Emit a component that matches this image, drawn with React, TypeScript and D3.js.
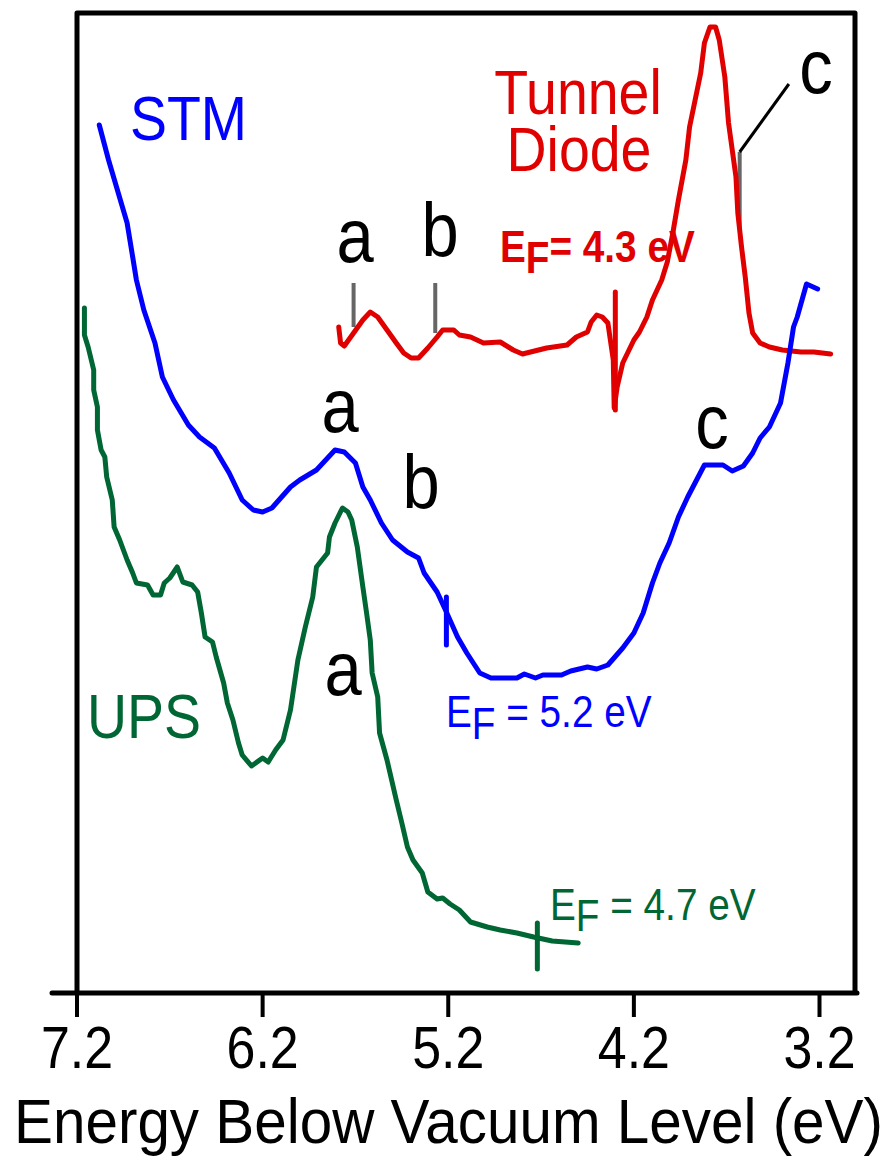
import React from 'react';
import * as d3 from 'd3';

// energy (eV below vacuum) and intensity (arb. units)
const stmEnergy = [7.08, 7.03, 6.93, 6.90, 6.88, 6.84, 6.78, 6.74, 6.68, 6.60, 6.54, 6.46, 6.38, 6.31, 6.25, 6.20, 6.15, 6.05, 6.00, 5.91, 5.85, 5.81, 5.76, 5.70, 5.66, 5.62, 5.56, 5.50, 5.42, 5.36, 5.33, 5.26, 5.21, 5.15, 5.10, 5.03, 4.97, 4.83, 4.79, 4.73, 4.69, 4.59, 4.54, 4.45, 4.40, 4.34, 4.26, 4.20, 4.15, 4.10, 4.06, 4.01, 3.96, 3.91, 3.82, 3.72, 3.67, 3.61, 3.56, 3.52, 3.47, 3.41, 3.37, 3.34, 3.32, 3.27, 3.21];
const stmSignal = [86.8, 83.3, 77.0, 73.6, 71.3, 68.3, 65.0, 61.6, 59.3, 56.8, 55.6, 54.5, 52.0, 49.3, 48.3, 48.1, 48.5, 50.6, 51.3, 52.3, 53.5, 54.3, 54.1, 53.0, 50.6, 49.3, 47.0, 45.3, 44.1, 43.5, 42.0, 40.1, 38.1, 35.6, 34.0, 32.0, 31.5, 31.5, 31.9, 31.5, 31.8, 31.8, 32.2, 32.6, 32.4, 32.8, 34.5, 36.0, 38.0, 41.0, 43.0, 45.0, 47.6, 49.6, 52.8, 52.8, 52.2, 52.7, 54.0, 55.5, 56.6, 59.0, 63.0, 66.6, 67.6, 70.9, 70.4];

const upsEnergy = [7.16, 7.16, 7.14, 7.11, 7.11, 7.09, 7.09, 7.07, 7.05, 7.04, 7.01, 7.00, 6.97, 6.93, 6.90, 6.88, 6.82, 6.79, 6.75, 6.73, 6.70, 6.66, 6.63, 6.58, 6.55, 6.53, 6.51, 6.47, 6.45, 6.43, 6.41, 6.39, 6.36, 6.33, 6.31, 6.26, 6.20, 6.17, 6.13, 6.09, 6.05, 6.01, 5.97, 5.93, 5.91, 5.85, 5.84, 5.81, 5.77, 5.74, 5.72, 5.69, 5.66, 5.64, 5.62, 5.61, 5.58, 5.57, 5.53, 5.48, 5.45, 5.42, 5.39, 5.34, 5.31, 5.26, 5.23, 5.19, 5.14, 5.08, 4.99, 4.92, 4.83, 4.74, 4.64, 4.50];
const upsSignal = [68.5, 65.8, 64.6, 62.3, 60.3, 58.6, 56.3, 54.3, 53.6, 51.6, 49.3, 46.6, 45.3, 43.3, 42.0, 41.0, 40.8, 39.8, 39.8, 41.0, 41.5, 42.6, 41.1, 40.8, 40.1, 38.0, 35.6, 35.1, 33.6, 32.3, 31.0, 29.0, 27.3, 25.0, 23.8, 22.7, 23.5, 23.1, 24.3, 25.3, 28.3, 33.3, 36.6, 39.6, 42.6, 44.0, 45.6, 47.0, 48.5, 48.1, 47.3, 44.6, 40.6, 38.0, 35.3, 32.0, 29.6, 26.0, 23.3, 19.3, 17.0, 14.6, 13.3, 12.0, 10.1, 9.4, 9.5, 8.9, 8.3, 7.1, 6.6, 6.3, 6.0, 5.6, 5.2, 5.0];

const diodeEnergy = [5.79, 5.78, 5.76, 5.71, 5.66, 5.62, 5.58, 5.53, 5.48, 5.44, 5.40, 5.36, 5.31, 5.26, 5.23, 5.17, 5.14, 5.08, 5.01, 4.92, 4.85, 4.80, 4.67, 4.56, 4.51, 4.45, 4.43, 4.40, 4.37, 4.34, 4.311, 4.306, 4.29, 4.26, 4.20, 4.17, 4.13, 4.10, 4.05, 4.02, 3.99, 3.96, 3.92, 3.90, 3.87, 3.84, 3.82, 3.79, 3.76, 3.74, 3.71, 3.69, 3.67, 3.65, 3.64, 3.62, 3.60, 3.58, 3.56, 3.52, 3.47, 3.40, 3.30, 3.23, 3.14];
const diodeSignal = [66.6, 65.0, 64.7, 66.0, 67.3, 68.1, 67.6, 66.3, 65.0, 64.0, 63.5, 63.5, 64.5, 65.6, 66.3, 66.3, 65.8, 65.6, 65.0, 65.1, 64.3, 63.9, 64.5, 64.8, 65.6, 66.1, 67.1, 67.8, 67.6, 67.0, 63.3, 58.5, 60.6, 63.0, 65.3, 66.1, 67.6, 69.3, 71.3, 73.1, 76.0, 79.3, 83.3, 86.6, 89.3, 92.0, 95.0, 96.6, 96.6, 95.3, 91.6, 87.0, 84.3, 81.6, 78.0, 74.6, 71.6, 68.0, 66.0, 65.0, 64.6, 64.3, 64.1, 64.1, 63.9];

const xTicks = [7.2, 6.2, 5.2, 4.2, 3.2];

// Fermi level marks: [energy, low, high, colour]
const fermiMarks: [number, number, number, string][] = [
  [4.3, 58.3, 70.1, '#e00000'],
  [5.21, 34.8, 39.6, '#0000ff'],
  [4.72, 2.4, 7.0, '#006633'],
];

// grey peak markers on the tunnel diode trace: [energy, low, high]
const peakMarks: [number, number, number][] = [
  [5.71, 66.6, 71.0],
  [5.27, 66.0, 71.0],
  [3.63, 76.5, 84.1],
];

const W = 888;
const H = 1161;
const SQ = 0.88; // fonts in the figure are horizontally condensed

type Pt = [number, number];

function Label({ x, y, size, fill, anchor = 'start', bold = false, children }: any) {
  return (
    <text
      transform={`translate(${x},${y}) scale(${SQ},1)`}
      fontSize={size}
      fill={fill}
      textAnchor={anchor}
      fontWeight={bold ? 'bold' : 'normal'}
    >
      {children}
    </text>
  );
}

export default function App() {
  const x = d3.scaleLinear().domain([7.2, 3.2]).range([77, 819.5]);
  const y = d3.scaleLinear().domain([0, 98]).range([993, 13]);

  const line = d3.line<Pt>().x(d => x(d[0])).y(d => y(d[1]));
  const zip = (a: number[], b: number[]): Pt[] => a.map((v, i) => [v, b[i]]);

  const series = [
    { id: 'diode', pts: zip(diodeEnergy, diodeSignal), color: '#e00000' },
    { id: 'stm', pts: zip(stmEnergy, stmSignal), color: '#0000ff' },
    { id: 'ups', pts: zip(upsEnergy, upsSignal), color: '#006633' },
  ];

  const frameL = 77, frameR = 855, frameT = 13, frameB = 993;

  return (
    <svg
      width={W}
      height={H}
      style={{ position: 'absolute', left: 0, top: 0, background: '#fff' }}
      fontFamily="'Liberation Sans', Arial, sans-serif"
    >
      <rect width={W} height={H} fill="#fff" />

      {/* frame */}
      <path
        d={`M${frameL},${frameB} L${frameL},${frameT} L${frameR},${frameT} L${frameR},${frameB}`}
        fill="none"
        stroke="#000"
        strokeWidth={5}
        strokeLinejoin="round"
      />
      <line x1={52} x2={857} y1={frameB} y2={frameB} stroke="#000" strokeWidth={5} strokeLinecap="round" />
      {xTicks.map(t => (
        <g key={t}>
          <line x1={x(t)} x2={x(t)} y1={frameB} y2={frameB + 24} stroke="#000" strokeWidth={4} />
          <Label x={x(t)} y={1068} size={59} fill="#000" anchor="middle">
            {t.toFixed(1)}
          </Label>
        </g>
      ))}
      <text
        x={14}
        y={1143}
        fontSize={63}
        textLength={869}
        lengthAdjust="spacingAndGlyphs"
        fill="#000"
      >
        Energy Below Vacuum Level (eV)
      </text>

      {/* peak markers */}
      {peakMarks.map(([e, lo, hi], i) => (
        <line key={i} x1={x(e)} x2={x(e)} y1={y(lo)} y2={y(hi)} stroke="#666" strokeWidth={4} />
      ))}
      <line x1={x(3.63)} y1={y(84.1)} x2={x(3.365)} y2={y(90.9)} stroke="#000" strokeWidth={3} />

      {/* curves */}
      {series.map(s => (
        <path
          key={s.id}
          d={line(s.pts) || ''}
          fill="none"
          stroke={s.color}
          strokeWidth={5}
          strokeLinejoin="round"
          strokeLinecap="round"
        />
      ))}

      {fermiMarks.map(([e, lo, hi, c], i) => (
        <line key={i} x1={x(e)} x2={x(e)} y1={y(lo)} y2={y(hi)} stroke={c} strokeWidth={5} strokeLinecap="round" />
      ))}

      {/* series labels */}
      <Label x={130} y={140} size={63} fill="#0000ff">STM</Label>
      <Label x={578} y={114} size={63} fill="#e00000" anchor="middle">Tunnel</Label>
      <Label x={579} y={171} size={63} fill="#e00000" anchor="middle">Diode</Label>
      <Label x={87} y={738} size={63} fill="#006633">UPS</Label>

      {/* Fermi level labels */}
      <Label x={500} y={262} size={44} fill="#e00000" bold>
        E<tspan dy={11}>F</tspan>
        <tspan dy={-11}>= 4.3 eV</tspan>
      </Label>
      <Label x={446} y={727} size={44} fill="#0000ff">
        E<tspan dy={12}>F</tspan>
        <tspan dy={-12}> = 5.2 eV</tspan>
      </Label>
      <Label x={550} y={920} size={44} fill="#006633">
        E<tspan dy={11}>F</tspan>
        <tspan dy={-11}> = 4.7 eV</tspan>
      </Label>

      {/* peak letters */}
      <Label x={355} y={262} size={76} fill="#000" anchor="middle">a</Label>
      <Label x={440} y={256} size={76} fill="#000" anchor="middle">b</Label>
      <Label x={816} y={93} size={76} fill="#000" anchor="middle">c</Label>
      <Label x={340} y={432} size={76} fill="#000" anchor="middle">a</Label>
      <Label x={421} y={508} size={76} fill="#000" anchor="middle">b</Label>
      <Label x={712} y={448} size={76} fill="#000" anchor="middle">c</Label>
      <Label x={343} y={695} size={76} fill="#000" anchor="middle">a</Label>
    </svg>
  );
}
